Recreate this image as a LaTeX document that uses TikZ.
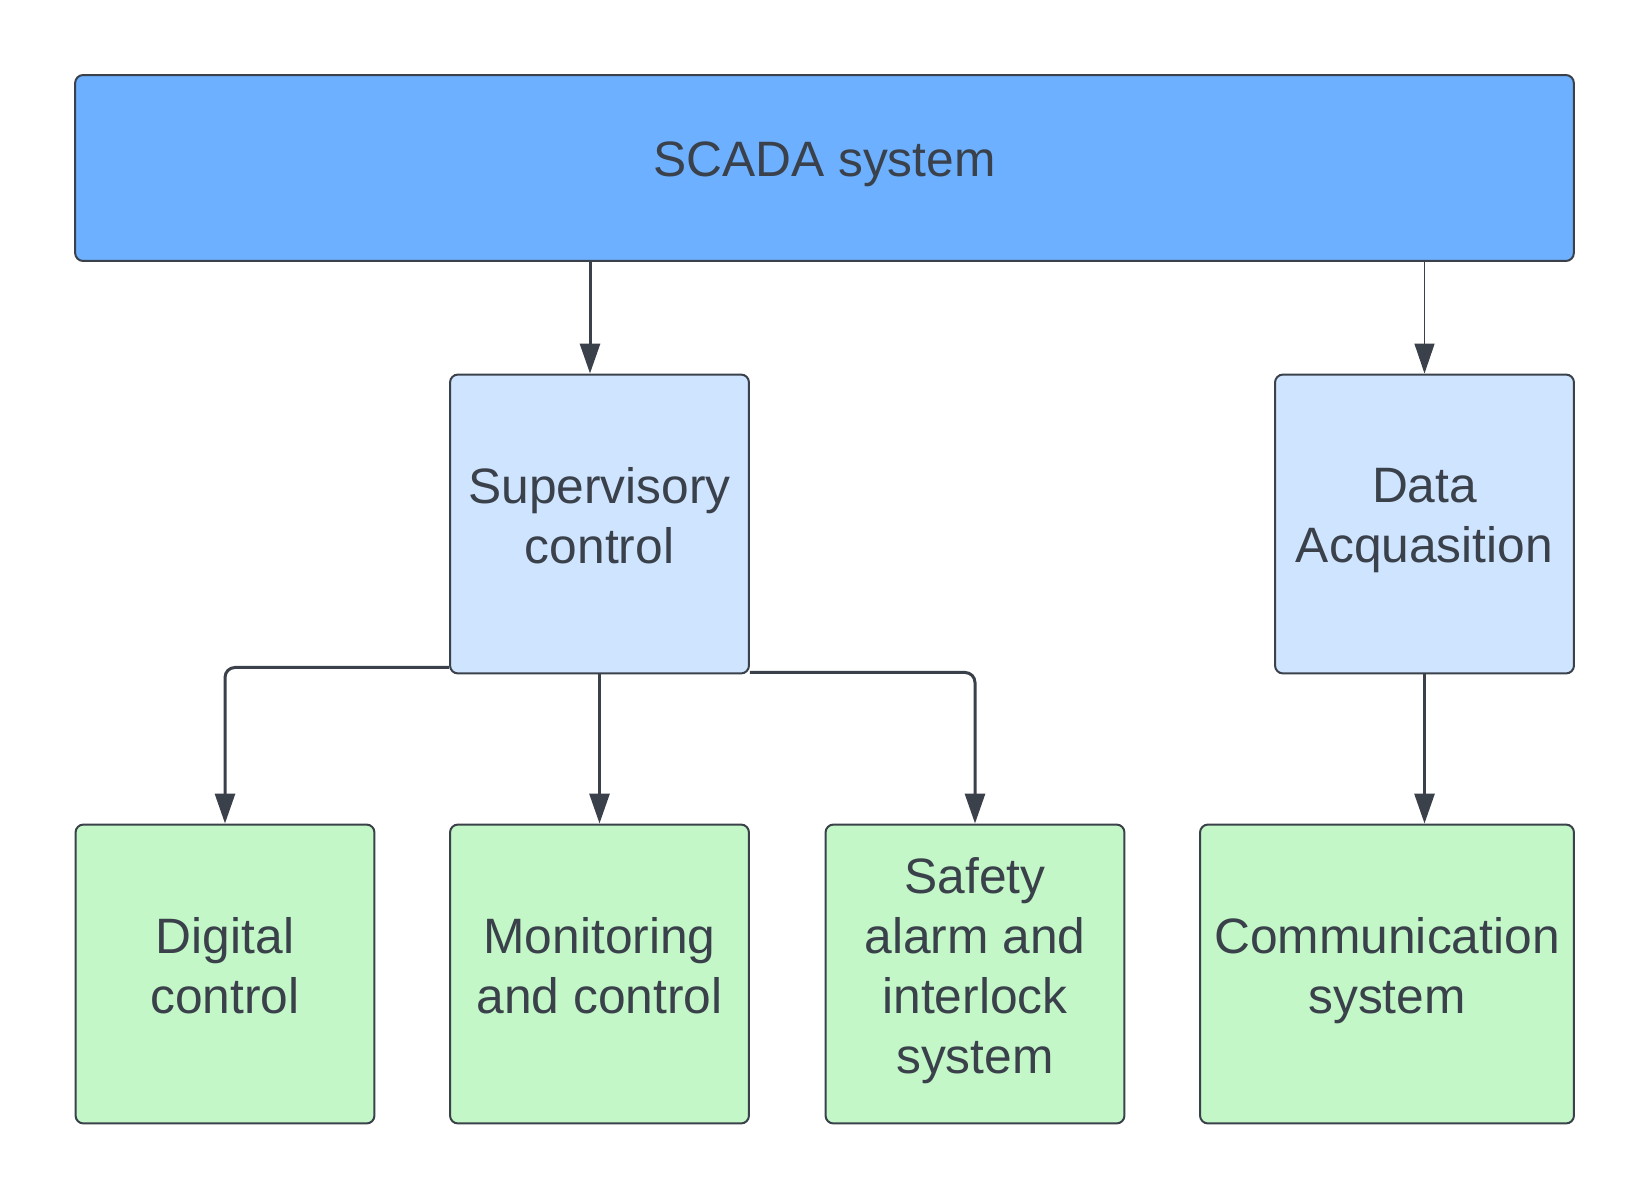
\documentclass[tikz,border=0pt]{standalone}
\usepackage{fontspec}
\setmainfont{Liberation Sans}
\usetikzlibrary{positioning}
\usetikzlibrary{arrows.meta}
\definecolor{scadablue}{HTML}{6CB0FF}
\definecolor{paleblue}{HTML}{CFE4FF}
\definecolor{palegreen}{HTML}{C3F7C8}
\definecolor{inkgray}{HTML}{3A414A}

\begin{document}
\begin{tikzpicture}[x=0.02cm,y=-0.02cm,
    box/.style={draw=inkgray, line width=0.04cm, rounded corners=0.16cm, align=center,
      text=inkgray, inner sep=0pt, text depth=0.34cm, font=\fontsize{28.3}{34}\selectfont},
    sqbox/.style={box, minimum width=5.98cm, minimum height=5.98cm},
    link/.style={draw=inkgray, line width=0.06cm, rounded corners=0.2cm,
      -{Triangle[width=0.4cm,length=0.6cm]}},
    thinlink/.style={link, line width=0.03cm}]
    \useasboundingbox (0,0) rectangle (1650,1200);
    % top level
    \node[box, fill=scadablue, minimum width=29.98cm, minimum height=3.72cm] (scada) at (824.5,168) {SCADA system};
    % second level
    \node[sqbox, fill=paleblue] (sup) at (599.5,524) {Supervisory\\control};
    \node[sqbox, fill=paleblue] (acq) at (1424.5,524) {Data\\Acquasition};
    % third level
    \node[sqbox, fill=palegreen] (digital) at (225,974) {Digital\\control};
    \node[sqbox, fill=palegreen] (monitor) at (599.5,974) {Monitoring\\and control};
    \node[sqbox, fill=palegreen] (safety) at (975,974) {Safety\\alarm and\\interlock\\system};
    \node[box, fill=palegreen, minimum width=7.48cm, minimum height=5.98cm] (comm) at (1387,974) {Communication\\system};

    \draw[link] ([xshift=-0.19cm]sup.north |- scada.south) -- ([xshift=-0.19cm]sup.north);
    \draw[thinlink] (acq.north |- scada.south) -- (acq.north);
    \draw[link] ([yshift=0.14cm]sup.south west) -| (digital.north);
    \draw[link] (sup.south) -- (monitor.north);
    \draw[link] ([yshift=0.04cm]sup.south east) -| (safety.north);
    \draw[link] (acq.south) -- (acq.south |- comm.north);
\end{tikzpicture}
\end{document}
